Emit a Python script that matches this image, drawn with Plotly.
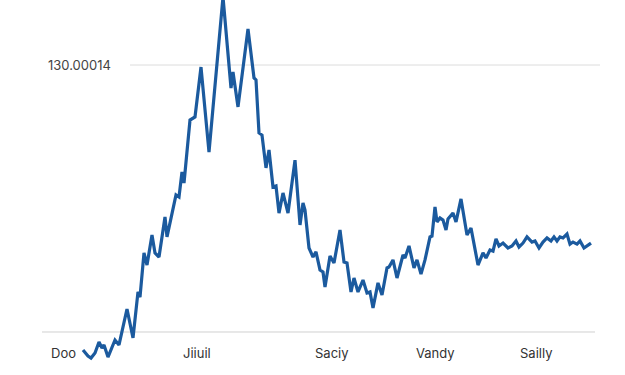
import plotly.graph_objects as go

# time index (days) and series values
t = [0, 5, 8, 12, 16, 19, 21, 25, 32, 36, 44, 50, 55, 57, 61, 64, 69, 72, 76, 82, 84, 89, 93, 96,
     99, 101, 105, 107, 112, 118, 126, 140, 148, 150, 155, 165, 171, 173, 176, 179, 183, 186, 190,
     193, 196, 200, 205, 212, 217, 220, 222, 226, 230, 233, 237, 240, 242, 247, 251, 257, 261, 264,
     268, 271, 275, 280, 284, 287, 290, 295, 299, 304, 306, 310, 314, 320, 322, 326, 331, 334, 338,
     342, 347, 349, 352, 354, 357, 360, 363, 365, 370, 373, 378, 384, 388, 395, 400, 403, 407, 410,
     413, 416, 420, 425, 429, 433, 436, 440, 444, 449, 452, 456, 460, 464, 468, 471, 474, 477, 480,
     484, 487, 490, 494, 497, 501, 504, 508]
values = [-8.8, -11.7, -12.7, -10.2, -4.9, -7.8, -6.3, -12.2, -3.9, -6.3, 11.2, -2.9, 19.5, 17.0,
          38.5, 32.6, 47.2, 38.5, 36.5, 56.0, 46.3, 57.0, 66.7, 65.7, 77.9, 72.5, 91.0, 103.2, 104.7,
          129.0, 87.6, 163.1, 118.8, 126.6, 109.6, 147.5, 123.7, 122.7, 96.9, 95.9, 79.9, 88.6, 70.6,
          71.1, 57.9, 67.7, 57.9, 83.7, 52.1, 62.8, 59.4, 40.9, 36.5, 39.0, 30.2, 29.2, 21.9, 37.0,
          33.6, 49.7, 34.1, 33.6, 19.5, 26.3, 19.5, 25.3, 19.0, 19.5, 11.7, 23.9, 18.0, 31.2, 31.6,
          35.1, 26.3, 37.5, 36.0, 41.9, 31.2, 35.1, 28.2, 35.1, 46.3, 46.7, 60.9, 53.6, 55.5, 54.5,
          49.7, 55.0, 57.9, 53.6, 64.8, 47.2, 50.6, 32.6, 38.5, 36.0, 39.9, 39.4, 45.3, 41.9, 43.3,
          40.9, 41.9, 44.3, 41.4, 43.3, 46.3, 43.8, 44.3, 40.9, 43.8, 45.8, 44.3, 46.3, 44.3, 46.3,
          45.8, 47.7, 42.8, 43.8, 42.8, 44.3, 40.9, 41.9, 43.3]

x_labels = ["Doo", "Jiiuil", "Saciy", "Vandy", "Sailly"]
x_label_pos = [-20, 114, 249, 352, 453]
y_tick_value = 130
y_tick_label = "130.00014"

fig = go.Figure()
fig.add_trace(go.Scatter(x=t, y=values, mode="lines",
                         line=dict(color="#1b5a9e", width=3.2), hoverinfo="skip"))

# gridline and baseline
fig.add_shape(type="line", xref="x", yref="y", x0=47, x1=517, y0=y_tick_value, y1=y_tick_value,
              line=dict(color="#dcdcdc", width=1), layer="below")
fig.add_shape(type="line", xref="x", yref="y", x0=-41, x1=512, y0=0, y1=0,
              line=dict(color="#d0d0d0", width=1), layer="below")

fig.add_annotation(x=30, y=y_tick_value, xref="x", yref="y", text=y_tick_label, showarrow=False,
                   xanchor="right", yanchor="middle", font=dict(size=13, color="#444444", family="Inter"))
for lab, pos in zip(x_labels, x_label_pos):
    fig.add_annotation(x=pos, y=-10.2, xref="x", yref="y", text=lab, showarrow=False,
                       xanchor="center", yanchor="middle",
                       font=dict(size=13, color="#333333", family="Inter"))

fig.update_layout(
    width=625, height=375,
    margin=dict(l=0, r=0, t=0, b=0),
    paper_bgcolor="white", plot_bgcolor="white",
    showlegend=False,
    hovermode=False,
    xaxis=dict(range=[-83, 542], visible=False),
    yaxis=dict(range=[-20.94, 161.65], visible=False),
)

fig.write_html("out.html", config={"displayModeBar": False},
               post_script="document.body.style.margin='0';")
